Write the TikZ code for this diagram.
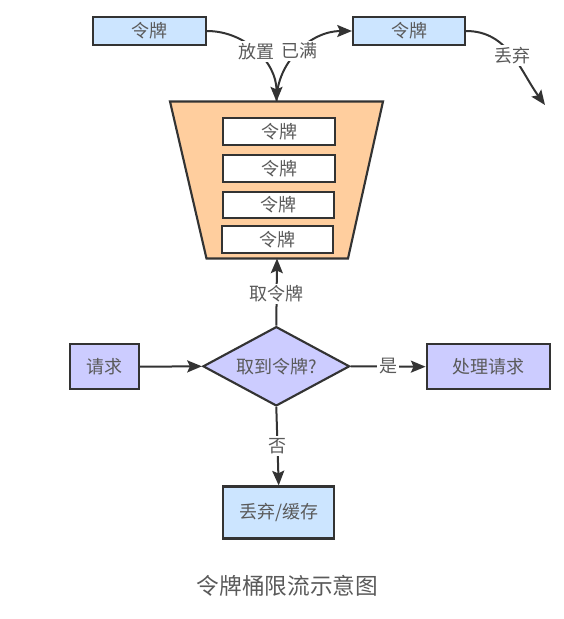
\documentclass[tikz,border=0pt]{standalone}
\usepackage{fontspec}
\setmainfont{Noto Sans CJK SC}
\usetikzlibrary{shapes.geometric,arrows.meta}
\definecolor{boxblue}{HTML}{CCE5FF}
\definecolor{boxpurple}{HTML}{CCCCFF}
\definecolor{bucketorange}{HTML}{FFCE9E}
\definecolor{edgegray}{HTML}{333333}
\definecolor{textgray}{HTML}{5A5A5A}
\begin{document}
\begin{tikzpicture}[x=0.75pt,y=0.75pt,
  every node/.style={font=\fontsize{13.5}{16}\selectfont, text=textgray},
  box/.style={draw=edgegray, line width=1.6pt, inner sep=0pt},
  bluebox/.style={box, fill=boxblue},
  purplebox/.style={box, fill=boxpurple},
  tokenbox/.style={box, fill=white, minimum width=83.5pt, minimum height=20pt},
  decision/.style={diamond, draw=edgegray, line width=1.6pt, fill=boxpurple, inner sep=0pt, minimum width=110pt, minimum height=59.5pt, aspect=1.85},
  conn/.style={draw=edgegray, line width=1.5pt, -{Stealth[length=11pt,width=9pt,inset=2pt]}},
  lbl/.style={fill=white, inner sep=1.5pt}
]
\useasboundingbox (0,0) rectangle (564,-619);

% top tokens
\node[bluebox, minimum width=84.5pt, minimum height=21pt] (L) at (149.5,-31) {令牌};
\node[bluebox, minimum width=84pt, minimum height=21pt] (R) at (409,-31) {令牌};

% bucket
\draw[draw=edgegray, line width=1.6pt, fill=bucketorange]
  (170,-101.5) -- (383,-101.5) -- (348,-258.5) -- (206.5,-258.5) -- cycle;
\coordinate (btop) at (276.5,-101.5);
\coordinate (bbot) at (277,-258.5);

\node[tokenbox] (T1) at (279,-131.5) {令牌};
\node[tokenbox] (T2) at (279,-168.3) {令牌};
\node[tokenbox] (T3) at (278.3,-205) {令牌};
\node[tokenbox] (T4) at (277.5,-239.7) {令牌};

% discard end
\coordinate (drop) at (545,-105);

\draw[conn] (L.east) to[out=0,in=90] node[lbl, pos=0.5] {放置} (btop);
\draw[conn] (btop) to[out=90,in=180] node[lbl, pos=0.5] {已满} (R.west);
\draw[conn] (R.east) to[out=0,in=126] node[lbl, pos=0.5] {丢弃} (drop);

% flow
\node[decision] (D) at (276.3,-366.3) {取到令牌?};
\node[purplebox, minimum width=51.7pt, minimum height=34pt] (Q) at (104.5,-366.7) {请求};
\node[purplebox, minimum width=92.5pt, minimum height=34pt] (P) at (488.3,-366.7) {处理请求};
\node[bluebox, minimum width=83.5pt, minimum height=39pt] (X) at (278.7,-512.5) {丢弃/缓存};

\draw[conn] (D.north) -- node[lbl, pos=0.47] {取令牌} (bbot);
\draw[conn] (Q.east) -- (D.west);
\draw[conn] (D.east) -- node[lbl, pos=0.5] {是} (P.west);
\draw[conn] (D.south) -- node[lbl, pos=0.5] {否} (X.north);

\node[font=\fontsize{17}{20}\selectfont] (cap) at (287.5,-586) {令牌桶限流示意图};
\end{tikzpicture}
\end{document}
